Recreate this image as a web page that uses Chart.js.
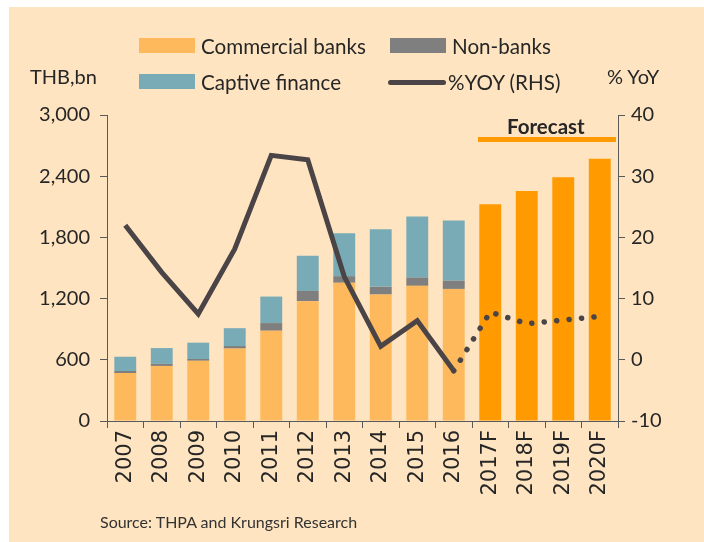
<!DOCTYPE html>
<html>
<head>
<meta charset="utf-8">
<script src="https://cdn.jsdelivr.net/npm/chart.js@4.4.1/dist/chart.umd.min.js"></script>
<style>
  html, body { margin: 0; padding: 0; background: #ffffff; }
  #wrap { position: relative; width: 704px; height: 542px; overflow: hidden; font-family: 'Lato', 'Liberation Sans', sans-serif; color: #262626; }
  #bg { position: absolute; left: 9px; top: 7px; width: 695px; height: 535px; background: #FEE4C0; }
  #c { position: absolute; left: 0; top: 0; }
  .t { position: absolute; white-space: nowrap; line-height: 1; }
  .sw { position: absolute; width: 56px; height: 15px; }
  .ln { position: absolute; width: 58px; height: 5px; border-radius: 3px; background: #4A4446; }
</style>
</head>
<body>
<div id="wrap">
  <div id="bg"></div>
  <canvas id="c" width="704" height="542"></canvas>

  <div class="sw" style="left:139px; top:38px; background:#FDB95C;"></div>
  <div class="t" style="left:201px; top:36px; font-size:20.6px;">Commercial banks</div>
  <div class="sw" style="left:390px; top:38px; background:#7F7F7F;"></div>
  <div class="t" style="left:452px; top:36px; font-size:20.6px;">Non-banks</div>
  <div class="sw" style="left:139px; top:74px; background:#79ABB7;"></div>
  <div class="t" style="left:201px; top:72px; font-size:20.6px;">Captive finance</div>
  <div class="ln" style="left:388px; top:80px;"></div>
  <div class="t" style="left:448px; top:72px; font-size:20.6px;">%YOY (RHS)</div>

  <div class="t" style="left:30px; top:66px; font-size:20px;">THB,bn</div>
  <div class="t" style="left:607px; top:66px; font-size:20px;">% YoY</div>

  <div class="t" style="left:507px; top:116px; font-size:20.5px; font-weight:bold;">Forecast</div>
  <div style="position:absolute; left:478px; top:137px; width:138px; height:5px; background:#FF9A00;"></div>

  <div class="t" style="left:100px; top:514px; font-size:16px; color:#333;">Source: THPA and Krungsri Research</div>
</div>
<script>
const categories = ['2007','2008','2009','2010','2011','2012','2013','2014','2015','2016','2017F','2018F','2019F','2020F'];
const commercialBanks = [470, 540, 590, 710, 885, 1175, 1355, 1240, 1325, 1295, null, null, null, null];
const nonBanks        = [20, 20, 18, 25, 75, 100, 65, 75, 80, 80, null, null, null, null];
const captiveFinance  = [140, 155, 160, 175, 260, 345, 420, 565, 600, 590, null, null, null, null];
const forecastTotal   = [null, null, null, null, null, null, null, null, null, null, 2125, 2255, 2390, 2570];
const yoyActual   = [22, 14.3, 7.5, 18.1, 33.4, 32.7, 13.6, 2.2, 6.4, -1.8, null, null, null, null];
const yoyForecast = [null, null, null, null, null, null, null, null, null, -1.8, 7.8, 5.9, 6.5, 7.1];
const leftTicks  = [0, 600, 1200, 1800, 2400, 3000];
const rightTicks = [-10, 0, 10, 20, 30, 40];

const axisColor = '#595959';
const tickFont = { family: 'Lato', size: 20 };
const xTickFont = { family: 'DejaVu Sans', size: 21 };

new Chart(document.getElementById('c'), {
  data: {
    labels: categories,
    datasets: [
      { type: 'line', label: '%YOY (RHS)', data: yoyActual, yAxisID: 'y1', borderColor: '#4A4446', borderWidth: 5,
        pointRadius: 0, fill: false, tension: 0, order: 0, borderJoinStyle: 'miter', spanGaps: false },
      { type: 'line', label: '%YOY forecast', data: yoyForecast, yAxisID: 'y1', borderColor: '#4A4446', borderWidth: 5.5,
        borderDash: [0.1, 12.4], borderCapStyle: 'round', pointRadius: 0, fill: false, tension: 0, order: 0, spanGaps: false },
      { type: 'bar', label: 'Commercial banks', data: commercialBanks, backgroundColor: '#FDB95C', yAxisID: 'y', stack: 's', order: 1 },
      { type: 'bar', label: 'Non-banks', data: nonBanks, backgroundColor: '#7F7F7F', yAxisID: 'y', stack: 's', order: 1 },
      { type: 'bar', label: 'Captive finance', data: captiveFinance, backgroundColor: '#79ABB7', yAxisID: 'y', stack: 's', order: 1 },
      { type: 'bar', label: 'Forecast', data: forecastTotal, backgroundColor: '#FF9A00', yAxisID: 'y', stack: 's', order: 1 }
    ]
  },
  options: {
    responsive: false,
    animation: false,
    devicePixelRatio: 1,
    layout: { padding: { top: 115, left: 0, right: 0, bottom: 0 } },
    datasets: { bar: { barPercentage: 0.6, categoryPercentage: 1.0 } },
    plugins: { legend: { display: false }, tooltip: { enabled: false } },
    scales: {
      x: {
        stacked: true,
        offset: true,
        grid: { offset: true, drawOnChartArea: false, drawTicks: true, tickLength: 7, color: axisColor },
        border: { color: axisColor, width: 1 },
        ticks: { minRotation: 90, maxRotation: 90, autoSkip: false, font: xTickFont, color: '#262626', padding: 2 },
        afterFit: s => { s.height = 121; }
      },
      y: {
        position: 'left',
        stacked: true,
        min: 0, max: 3000,
        afterBuildTicks: s => { s.ticks = leftTicks.map(v => ({ value: v })); },
        ticks: { font: tickFont, color: '#262626', padding: 10, callback: v => v.toLocaleString('en-US') },
        grid: { drawOnChartArea: false, drawTicks: true, tickLength: 7, color: axisColor },
        border: { color: axisColor, width: 1 },
        afterFit: s => { s.width = 107; }
      },
      y1: {
        position: 'right',
        min: -10, max: 40,
        afterBuildTicks: s => { s.ticks = rightTicks.map(v => ({ value: v })); },
        ticks: { font: tickFont, color: '#262626', padding: 6 },
        grid: { drawOnChartArea: false, drawTicks: true, tickLength: 7, color: axisColor },
        border: { color: axisColor, width: 1 },
        afterFit: s => { s.width = 86; }
      }
    }
  }
});
</script>
</body>
</html>
